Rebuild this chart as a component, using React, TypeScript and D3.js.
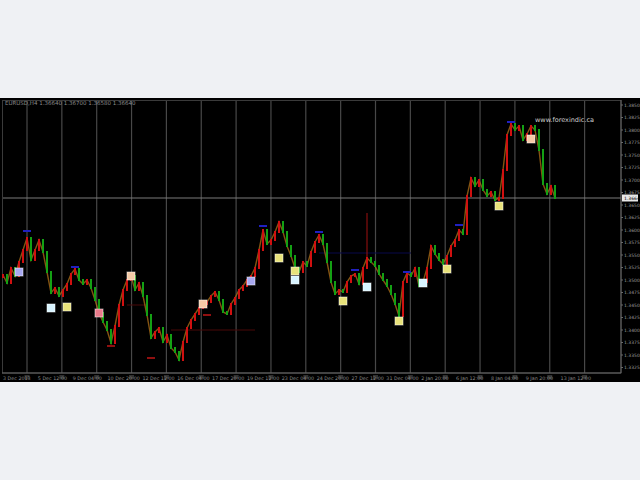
import React from "react";
import * as d3 from "d3";

const closes = [
  1.3510, 1.3494, 1.3524, 1.3508, 1.3536, 1.3560, 1.3584, 1.3540, 1.3560, 1.3580,
  1.3556, 1.3516, 1.3474, 1.3484, 1.3468, 1.3480, 1.3492, 1.3512, 1.3522, 1.3500,
  1.3492, 1.3500, 1.3484, 1.3460, 1.3434, 1.3416, 1.3400, 1.3374, 1.3408, 1.3450,
  1.3480, 1.3500, 1.3508, 1.3480, 1.3494, 1.3468, 1.3430, 1.3384, 1.3396, 1.3404,
  1.3376, 1.3390, 1.3364, 1.3356, 1.3340, 1.3376, 1.3404, 1.3420, 1.3432, 1.3444,
  1.3452, 1.3456, 1.3468, 1.3476, 1.3460, 1.3436, 1.3432, 1.3452, 1.3464, 1.3480,
  1.3488, 1.3500, 1.3508, 1.3524, 1.3560, 1.3600, 1.3572, 1.3580, 1.3596, 1.3616,
  1.3596, 1.3568, 1.3548, 1.3524, 1.3516, 1.3536, 1.3528, 1.3556, 1.3576, 1.3590,
  1.3572, 1.3536, 1.3496, 1.3472, 1.3480, 1.3476, 1.3496, 1.3508, 1.3512, 1.3492,
  1.3524, 1.3544, 1.3536, 1.3528, 1.3512, 1.3500, 1.3488, 1.3472, 1.3452, 1.3428,
  1.3496, 1.3514, 1.3508, 1.3524, 1.3488, 1.3496, 1.3524, 1.3568, 1.3552, 1.3540,
  1.3532, 1.3548, 1.3568, 1.3580, 1.3600, 1.3592, 1.3668, 1.3704, 1.3688, 1.3700,
  1.3680, 1.3668, 1.3676, 1.3660, 1.3664, 1.3720, 1.3790, 1.3812, 1.3800, 1.3808,
  1.3780, 1.3792, 1.3808, 1.3800, 1.3760, 1.3692, 1.3672, 1.3688, 1.3664,
];

const spikeBars = [91];
const spikeHighs = [1.3634];

const topMarkBars = [6, 18, 65, 79, 88, 101, 114, 127];
const topMarkPrices = [1.3598, 1.3526, 1.3608, 1.3596, 1.3520, 1.3516, 1.3610, 1.3816];

const lowMarkBars = [27, 37, 51];
const lowMarkPrices = [1.3368, 1.3344, 1.3430];

const signalBars = [4, 12, 16, 24, 32, 50, 62, 69, 73, 73, 85, 91, 99, 105, 111, 124, 132];
const signalPrices = [1.3516, 1.3444, 1.3446, 1.3434, 1.3508, 1.3452, 1.3498, 1.3544, 1.3518, 1.3500, 1.3458, 1.3486, 1.3418, 1.3494, 1.3522, 1.3648, 1.3782];
const signalKinds = ["buy", "exit", "hold", "sell", "peach", "peach", "buy", "hold", "hold", "exit", "hold", "exit", "hold", "exit", "hold", "hold", "peach"];

const levelFrom = [31, 42, 79];
const levelTo = [36, 63, 102];
const levelPrices = [1.3450, 1.3400, 1.3554];
const levelKinds = ["red", "red", "blue"];

const timeLabels = [
  "3 Dec 2013", "5 Dec 12:00", "9 Dec 04:00", "10 Dec 20:00", "12 Dec 12:00", "16 Dec 04:00",
  "17 Dec 20:00", "19 Dec 12:00", "23 Dec 04:00", "24 Dec 20:00", "27 Dec 12:00", "31 Dec 04:00",
  "2 Jan 20:00", "6 Jan 12:00", "8 Jan 04:00", "9 Jan 20:00", "13 Jan 12:00",
];

const headerText = "EURUSD,H4  1.36640 1.36700 1.36580 1.36640";
const watermark = "www.forexindic.ca";
const currentPrice = 1.3664;

const kindFill: Record<string, string> = {
  buy: "#a8a8f0",
  exit: "#d8f4ff",
  hold: "#e8e27a",
  sell: "#e87a8a",
  peach: "#f4caa6",
};

export default function App() {
  const W = 640;
  const H = 480;
  const chartTop = 98;
  const chartBottom = 382;
  const plotRight = 621;
  const plotBottom = 373;

  const x = d3.scaleLinear().domain([0, closes.length - 1]).range([3, 555]);
  const y = d3.scaleLinear().domain([1.33, 1.385]).range([380, 105]);

  const priceTicks = d3.range(1.3325, 1.38501, 0.0025);
  const gridXs = d3.range(0, 17).map((k) => 27 + k * 34.85);

  const linePath = d3
    .line<number>()
    .x((_, i) => x(i))
    .y((d) => y(d))(closes) as string;

  return (
    <svg
      width={W}
      height={H}
      style={{ position: "absolute", left: 0, top: 0, display: "block" }}
    >
      <rect x={0} y={0} width={W} height={H} fill="#eff1f4" />
      <rect x={0} y={chartTop} width={W} height={chartBottom - chartTop} fill="#000" />
      <rect x={2.5} y={100.5} width={plotRight - 2.5} height={plotBottom - 100.5} fill="none" stroke="#3a3a3a" strokeWidth={1} />
      {gridXs.map((gx, i) => (
        <line key={"g" + i} x1={gx} x2={gx} y1={101} y2={plotBottom} stroke="#484848" strokeWidth={1.2} />
      ))}
      {levelPrices.map((p, i) => (
        <line
          key={"lv" + i}
          x1={x(levelFrom[i])}
          x2={x(levelTo[i])}
          y1={y(p)}
          y2={y(p)}
          stroke={levelKinds[i] === "red" ? "#4a0808" : "#08084a"}
          strokeWidth={1}
        />
      ))}
      <line x1={3} x2={plotRight} y1={y(currentPrice)} y2={y(currentPrice)} stroke="#7a7a7a" strokeWidth={1} />
      <text x={5} y={105} fontSize={5.5} fill="#8a8a8a" fontFamily="DejaVu Sans">{headerText}</text>
      <text x={535} y={122} fontSize={6.5} fill="#cfcfcf" fontFamily="DejaVu Sans">{watermark}</text>
      <path d={linePath} fill="none" stroke="#b07018" strokeWidth={1.4} opacity={0.75} />
      {spikeBars.map((b, i) => (
        <line key={"sp" + i} x1={x(b)} x2={x(b)} y1={y(spikeHighs[i])} y2={y(closes[b])} stroke="#a01010" strokeWidth={1} />
      ))}
      {closes.map((c, i) => {
        const o = i === 0 ? closes[0] : closes[i - 1];
        const up = c >= o;
        const y1 = Math.min(y(o), y(c));
        const h = Math.max(Math.abs(y(o) - y(c)), 2);
        return (
          <rect
            key={"b" + i}
            x={x(i) - 1}
            y={y1 - 1}
            width={2}
            height={h + 2}
            fill={up ? "#d01010" : "#14a014"}
          />
        );
      })}
      {topMarkBars.map((b, i) => (
        <rect key={"tm" + i} x={x(b) - 4} y={y(topMarkPrices[i]) - 1} width={8} height={2} fill="#2020c0" />
      ))}
      {lowMarkBars.map((b, i) => (
        <rect key={"lm" + i} x={x(b) - 4} y={y(lowMarkPrices[i]) - 1} width={8} height={2} fill="#901010" />
      ))}
      {signalBars.map((b, i) => (
        <rect
          key={"sg" + i}
          x={x(b) - 4}
          y={y(signalPrices[i]) - 4}
          width={8}
          height={8}
          fill={kindFill[signalKinds[i]]}
          stroke="#ffffff"
          strokeOpacity={0.5}
          strokeWidth={1}
        />
      ))}
      <line x1={plotRight} x2={plotRight} y1={100} y2={plotBottom} stroke="#6a6a6a" strokeWidth={1} />
      {priceTicks.map((p, i) => (
        <g key={"pt" + i}>
          <line x1={plotRight} x2={plotRight + 2} y1={y(p)} y2={y(p)} stroke="#6a6a6a" />
          <text x={plotRight + 3} y={y(p) + 1.8} fontSize={4.5} fill="#9a9a9a" fontFamily="DejaVu Sans">
            {p.toFixed(4)}
          </text>
        </g>
      ))}
      <rect x={plotRight + 1} y={y(currentPrice) - 3.5} width={16} height={7} fill="#e8e8e8" />
      <text x={plotRight + 3} y={y(currentPrice) + 1.8} fontSize={4.5} fill="#000" fontFamily="DejaVu Sans">
        {currentPrice.toFixed(4)}
      </text>
      <line x1={2} x2={plotRight} y1={plotBottom} y2={plotBottom} stroke="#6a6a6a" />
      {timeLabels.map((t, i) => (
        <g key={"tl" + i}>
          <rect x={gridXs[i] - 2.5} y={plotBottom + 2} width={5} height={4} fill="#303030" />
          <text x={gridXs[i] - 24} y={plotBottom + 6.5} fontSize={4.8} fill="#8a8a8a" fontFamily="DejaVu Sans">
            {t}
          </text>
        </g>
      ))}
    </svg>
  );
}
